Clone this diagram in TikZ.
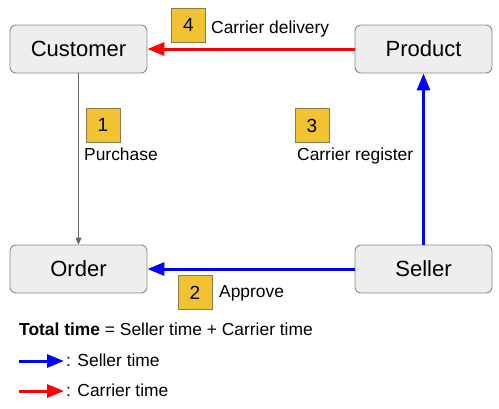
\documentclass[tikz,border=0pt]{standalone}
\usepackage{fontspec}
\setmainfont{Liberation Sans}
\usetikzlibrary{arrows.meta}
\definecolor{boxfill}{HTML}{EEEEEE}
\definecolor{boxline}{HTML}{8A8A8A}
\definecolor{numfill}{HTML}{F1C232}
\definecolor{numline}{HTML}{8C7A4A}
\definecolor{bluearr}{HTML}{0000FF}
\definecolor{redarr}{HTML}{FF0000}
\begin{document}
\begin{tikzpicture}[x=1pt,y=-1pt,
  entity/.style={draw=boxline,fill=boxfill,rounded corners=6pt,line width=0.9pt,
    minimum width=137pt,minimum height=48pt,inner sep=0pt,
    font=\fontsize{22}{25}\selectfont},
  numbox/.style={draw=numline,fill=numfill,line width=0.9pt,minimum width=34pt,
    minimum height=34pt,inner sep=0pt,font=\fontsize{19}{22}\selectfont},
  lbl/.style={anchor=base west,inner sep=0pt,font=\fontsize{17.4}{20}\selectfont},
  leg/.style={anchor=base west,inner sep=0pt,font=\fontsize{17.4}{20}\selectfont},
  blueflow/.style={draw=bluearr,line width=3pt,-{Triangle[length=17pt,width=13pt]}},
  redflow/.style={draw=redarr,line width=3pt,-{Triangle[length=17pt,width=13pt]}},
  grayflow/.style={draw=black!60,line width=0.9pt,-{Triangle[length=7pt,width=6pt]}}
]
\useasboundingbox (0,0) rectangle (499,408);

\node[entity] (customer) at (78.5,49) {Customer};
\node[entity] (product) at (423.5,49) {Product};
\node[entity] (order) at (78.5,269) {Order};
\node[entity] (seller) at (423.5,269) {Seller};

\draw[redflow] (product) -- (customer);
\draw[blueflow] (seller) -- (order);
\draw[blueflow] (seller) -- (product);
\draw[grayflow] (customer) -- (order);

\node[numbox] (n4) at (188.5,25) {4};
\node[lbl] (t4) at (211,33) {Carrier delivery};
\node[numbox] (n1) at (103,125) {1};
\node[lbl] (t1) at (84,160.5) {Purchase};
\node[numbox] (n3) at (312,125.5) {3};
\node[lbl] (t3) at (297,160.5) {Carrier register};
\node[numbox] (n2) at (195,292.5) {2};
\node[lbl] (t2) at (219,297) {Approve};

\node[leg] (total) at (19,335.5) {\textbf{Total time} = Seller time + Carrier time};
\coordinate (b0) at (19,361);
\coordinate (b1) at (64,361);
\draw[blueflow] (b0) -- (b1);
\node[leg] (sellert) at (66,366) {: Seller time};
\coordinate (r0) at (19,391);
\coordinate (r1) at (64,391);
\draw[redflow] (r0) -- (r1);
\node[leg] (carriert) at (66,396) {: Carrier time};
\end{tikzpicture}
\end{document}
